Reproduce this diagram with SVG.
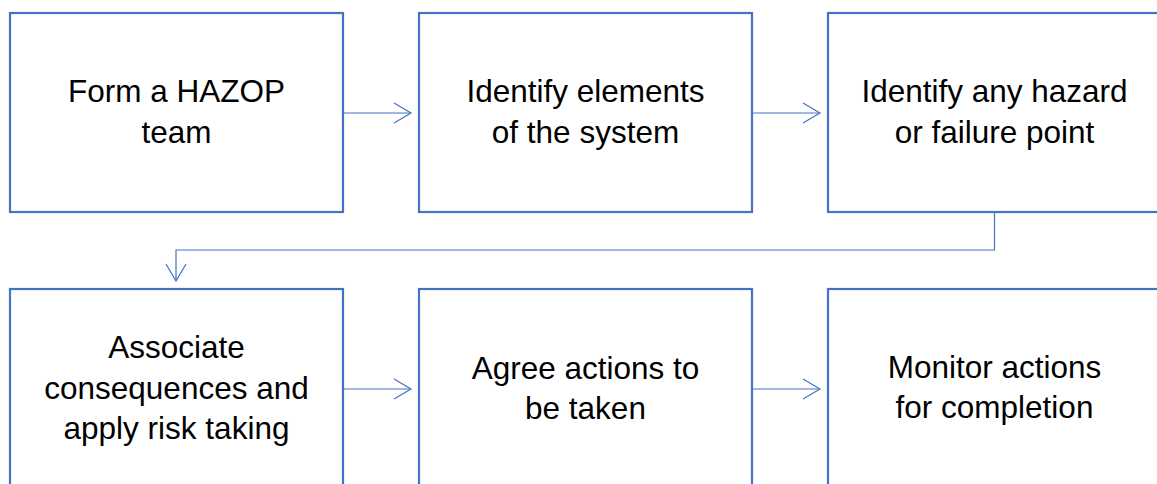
<svg xmlns="http://www.w3.org/2000/svg" width="1157" height="484" viewBox="0 0 1157 484">
<style>
.box{fill:#fff;stroke:#4472C4;stroke-width:2.2}
.lbl{font-family:"Liberation Sans",Arial,sans-serif;font-size:31.5px;fill:#000;text-anchor:middle}
.con{fill:none;stroke:#4472C4;stroke-width:1.2}
</style>
<defs>
<marker id="arr" markerUnits="userSpaceOnUse" viewBox="0 0 20 22" refX="18" refY="11" markerWidth="20" markerHeight="22" orient="auto">
<path d="M1,1 L18,11 L1,21" fill="none" stroke="#4472C4" stroke-width="1.2"/>
</marker>
</defs>
<rect width="1157" height="484" fill="#fff"/>
<g id="connectors">
<line class="con" x1="343" y1="113" x2="411" y2="113" marker-end="url(#arr)"/>
<line class="con" x1="752" y1="113" x2="820" y2="113" marker-end="url(#arr)"/>
<polyline class="con" points="994.5,212 994.5,250 176,250 176,281" marker-end="url(#arr)"/>
<line class="con" x1="343" y1="389" x2="411" y2="389" marker-end="url(#arr)"/>
<line class="con" x1="752" y1="389" x2="820" y2="389" marker-end="url(#arr)"/>
</g>
<g id="n1"><rect class="box" x="10" y="13" width="333" height="199"/>
<text class="lbl" x="176.5" y="102">Form a HAZOP</text><text class="lbl" x="176.5" y="143">team</text></g>
<g id="n2"><rect class="box" x="419" y="13" width="333" height="199"/>
<text class="lbl" x="585.5" y="102">Identify elements</text><text class="lbl" x="585.5" y="143">of the system</text></g>
<g id="n3"><rect class="box" x="828" y="13" width="333" height="199"/>
<text class="lbl" x="994.5" y="102">Identify any hazard</text><text class="lbl" x="994.5" y="143">or failure point</text></g>
<g id="n4"><rect class="box" x="10" y="289" width="333" height="199"/>
<text class="lbl" x="176.5" y="358">Associate</text><text class="lbl" x="176.5" y="399">consequences and</text><text class="lbl" x="176.5" y="439">apply risk taking</text></g>
<g id="n5"><rect class="box" x="419" y="289" width="333" height="199"/>
<text class="lbl" x="585.5" y="379">Agree actions to</text><text class="lbl" x="585.5" y="419">be taken</text></g>
<g id="n6"><rect class="box" x="828" y="289" width="333" height="199"/>
<text class="lbl" x="994.5" y="378">Monitor actions</text><text class="lbl" x="994.5" y="418">for completion</text></g>
</svg>
